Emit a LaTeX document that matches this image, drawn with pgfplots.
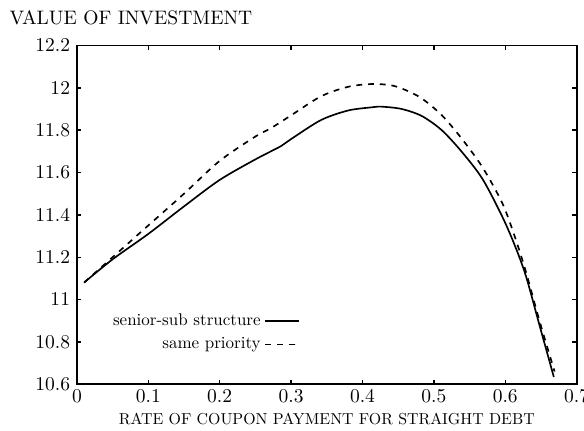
\documentclass[border=0pt]{standalone}
\usepackage{graphicx}
\usepackage{pgfplots}
\pgfplotsset{compat=1.18}
\begin{document}
\begin{tikzpicture}
\begin{axis}[
  name=ax,
  scale only axis,
  width=256pt, height=173.5pt,
  xmin=0, xmax=0.7, ymin=10.6, ymax=12.2,
  xtick={0,0.1,...,0.7},
  ytick={10.6,10.8,11,11.2,11.4,11.6,11.8,12,12.2},
  tick align=inside,
  axis line style={line width=0.95pt},
  major tick style={line width=0.7pt, black},
  major tick length=2.2pt,
  xticklabel style={/pgf/number format/fixed, yshift=0.8pt},
  yticklabel style={/pgf/number format/fixed},
  xlabel={\scalebox{0.814}{RATE OF COUPON PAYMENT FOR STRAIGHT DEBT}},
  xlabel style={at={(axis description cs:0.5,0)}, anchor=base, yshift=-20.5pt},
  title={VALUE OF INVESTMENT},
  title style={at={(axis description cs:0,1)}, anchor=base west, xshift=-38pt, yshift=4.5pt},
  legend plot pos=right,
  legend cell align=right,
  legend style={draw=none, fill=none, at={(0.458,0.072)}, anchor=south east, row sep=0.6pt},
]
\addplot[black, line width=0.85pt, smooth, tension=0.5] coordinates {
(0.01,11.08) (0.05,11.19) (0.1,11.31) (0.15,11.44) (0.2,11.565) (0.25,11.662)
(0.286,11.725) (0.3,11.758) (0.342,11.848) (0.38,11.893) (0.413,11.908) (0.427,11.911)
(0.455,11.90) (0.483,11.867) (0.511,11.80) (0.539,11.698) (0.568,11.57) (0.596,11.39)
(0.614,11.25) (0.629,11.11) (0.647,10.89) (0.668,10.634)
};
\addlegendentry{\scalebox{0.87}{senior-sub structure}}
\addplot[black, line width=0.85pt, dashed, smooth, tension=0.5] coordinates {
(0.01,11.08) (0.05,11.2) (0.1,11.35) (0.15,11.50) (0.2,11.655) (0.25,11.77)
(0.272,11.81) (0.3,11.87) (0.342,11.96) (0.38,12.005) (0.413,12.018) (0.44,12.012)
(0.46,11.99) (0.483,11.95) (0.511,11.871) (0.539,11.76) (0.568,11.625) (0.596,11.454)
(0.614,11.29) (0.629,11.13) (0.647,10.91) (0.669,10.66)
};
\addlegendentry{\scalebox{0.87}{same priority}}
\end{axis}
\pgfresetboundingbox
\path ([xshift=-39.4pt,yshift=-23.6pt]ax.south west) rectangle ([xshift=3.75pt,yshift=23.3pt]ax.north east);
\end{tikzpicture}
\end{document}
